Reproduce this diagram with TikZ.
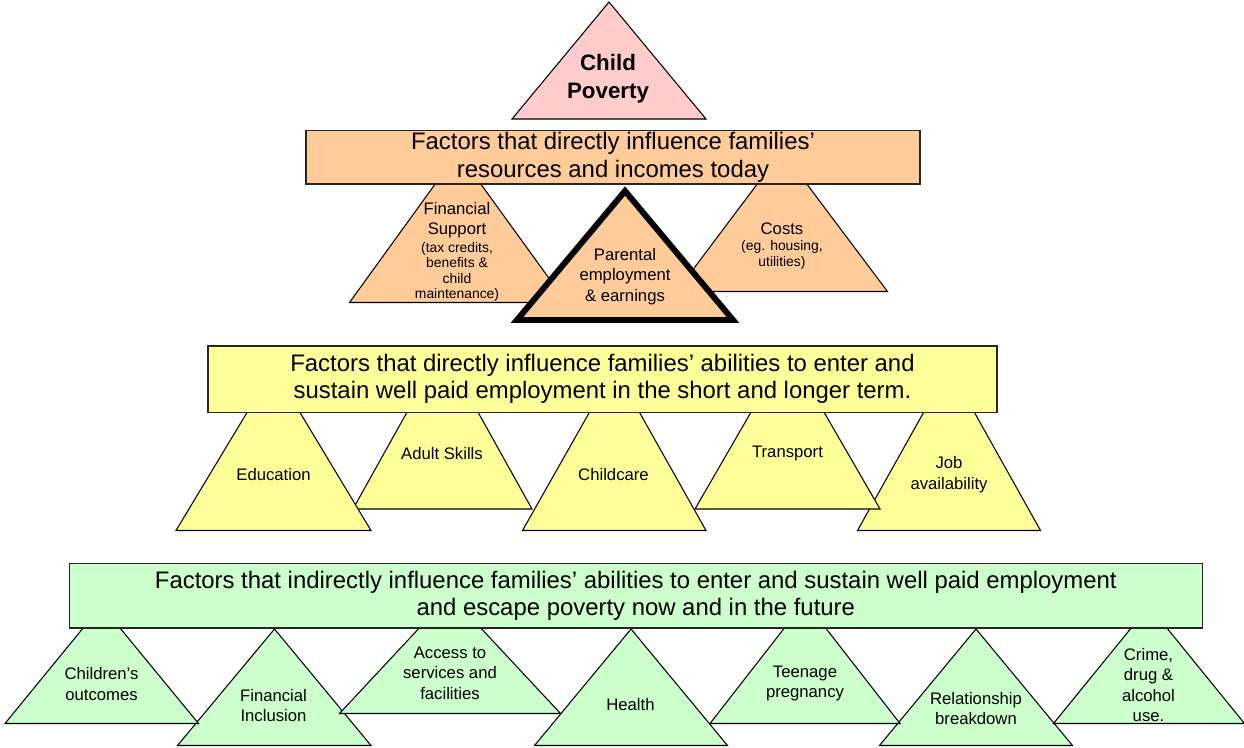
\documentclass[tikz,border=0pt]{standalone}
\usepackage{fontspec}
\setmainfont{Liberation Sans}
\usetikzlibrary{positioning}

\definecolor{povertypink}{HTML}{FFCCCC}
\definecolor{incomeorange}{HTML}{FFCC99}
\definecolor{workyellow}{HTML}{FFFF99}
\definecolor{indirectgreen}{HTML}{CCFFCC}

\tikzset{
  tri/.style={draw=black, line width=0.6pt, line join=miter},
  povertytri/.style={tri, fill=povertypink},
  incometri/.style={tri, fill=incomeorange},
  worktri/.style={tri, fill=workyellow},
  indirecttri/.style={tri, fill=indirectgreen},
  band/.style={draw=black!85, line width=0.8pt, inner sep=0pt, align=center,
    font=\fontsize{13.6}{15.4}\selectfont},
  tritext/.style={align=center, inner sep=0pt, font=\fontsize{9.5}{11.7}\selectfont},
  smallnote/.style={align=center, inner sep=0pt, font=\fontsize{7.9}{8.8}\selectfont}
}

\begin{document}
\begin{tikzpicture}

\useasboundingbox (0,0) rectangle (24.88,-14.94);

% top of the pyramid: child poverty
\filldraw[povertytri] (12.18,-0.04) -- (14.12,-2.38) -- (10.24,-2.38) -- cycle;
\node[tritext, font=\fontsize{12.7}{15.9}\selectfont\bfseries] (povertytext) at (12.16,-1.58) {Child\\Poverty};

% first level: resources and incomes today
% financial support and costs sit behind parental employment
\filldraw[incometri] (9.16,-3.05) -- (11.33,-6.05) -- (6.99,-6.05) -- cycle;
\filldraw[incometri] (15.64,-3.02) -- (17.75,-5.83) -- (13.53,-5.83) -- cycle;
\filldraw[incometri, line width=3.4pt] (12.5,-3.82) -- (14.66,-6.4) -- (10.34,-6.4) -- cycle;

\node[band, fill=incomeorange, minimum width=12.28cm, minimum height=1.066cm] (incomeband) at (12.26,-3.146)
  {Factors that directly influence families'\\resources and incomes today};

\node[tritext] (fsuptext) at (9.14,-4.4) {Financial\\Support};
\node[smallnote] (fsupnote) at (9.14,-5.44) {(tax credits,\\benefits \&\\child\\maintenance)};
\node[tritext] (parentaltext) at (12.5,-5.53) {Parental\\employment\\\& earnings};
\node[tritext] (coststext) at (15.64,-4.57) {Costs};
\node[smallnote] (costsnote) at (15.64,-5.10) {(eg. housing,\\utilities)};

% second level: entering and sustaining well paid work
\filldraw[worktri] (8.85,-6.97) -- (10.64,-10.18) -- (7.06,-10.18) -- cycle;
\filldraw[worktri] (5.47,-7.37) -- (7.42,-10.61) -- (3.52,-10.61) -- cycle;
\filldraw[worktri] (12.29,-7.36) -- (14.12,-10.61) -- (10.45,-10.61) -- cycle;
\filldraw[worktri] (18.98,-7.34) -- (20.81,-10.61) -- (17.15,-10.61) -- cycle;
\filldraw[worktri] (15.75,-6.98) -- (17.6,-10.18) -- (13.9,-10.18) -- cycle;

\node[band, fill=workyellow, minimum width=15.78cm, minimum height=1.326cm] (workband) at (12.05,-7.584)
  {Factors that directly influence families' abilities to enter and\\sustain well paid employment in the short and longer term.};

\node[tritext] (educationtext) at (5.47,-9.5) {Education};
\node[tritext] (skillstext) at (8.84,-9.07) {Adult Skills};
\node[tritext] (childcaretext) at (12.27,-9.5) {Childcare};
\node[tritext] (transporttext) at (15.75,-9.07) {Transport};
\node[tritext] (jobstext) at (18.98,-9.49) {Job\\availability};

% third level: indirect factors
% front row first, the raised triangles are drawn over them
\filldraw[indirecttri] (5.49,-12.58) -- (7.42,-14.91) -- (3.55,-14.91) -- cycle;
\filldraw[indirecttri] (12.62,-12.58) -- (14.55,-14.91) -- (10.69,-14.91) -- cycle;
\filldraw[indirecttri] (19.52,-12.58) -- (21.45,-14.91) -- (17.59,-14.91) -- cycle;
\filldraw[indirecttri] (2.03,-12.11) -- (3.97,-14.47) -- (0.1,-14.47) -- cycle;
\filldraw[indirecttri] (9.0,-11.9) -- (11.21,-14.27) -- (6.79,-14.27) -- cycle;
\filldraw[indirecttri] (16.1,-12.03) -- (18.0,-14.47) -- (14.2,-14.47) -- cycle;
\filldraw[indirecttri] (22.98,-12.12) -- (24.89,-14.47) -- (21.07,-14.47) -- cycle;

\node[band, fill=indirectgreen, minimum width=22.66cm, minimum height=1.294cm] (indirectband) at (12.716,-11.914)
  {Factors that indirectly influence families' abilities to enter and sustain well paid employment\\and escape poverty now and in the future};

\node[tritext] (outcomestext) at (2.03,-13.68) {Children's\\outcomes};
\node[tritext] (inclusiontext) at (5.47,-14.11) {Financial\\Inclusion};
\node[tritext] (accesstext) at (9.0,-13.46) {Access to\\services and\\facilities};
\node[tritext] (healthtext) at (12.61,-14.1) {Health};
\node[tritext] (teenagetext) at (16.1,-13.67) {Teenage\\pregnancy};
\node[tritext] (relationshiptext) at (19.52,-14.17) {Relationship\\breakdown};
\node[tritext] (crimetext) at (22.97,-13.7) {Crime,\\drug \&\\alcohol\\use.};

\end{tikzpicture}
\end{document}
